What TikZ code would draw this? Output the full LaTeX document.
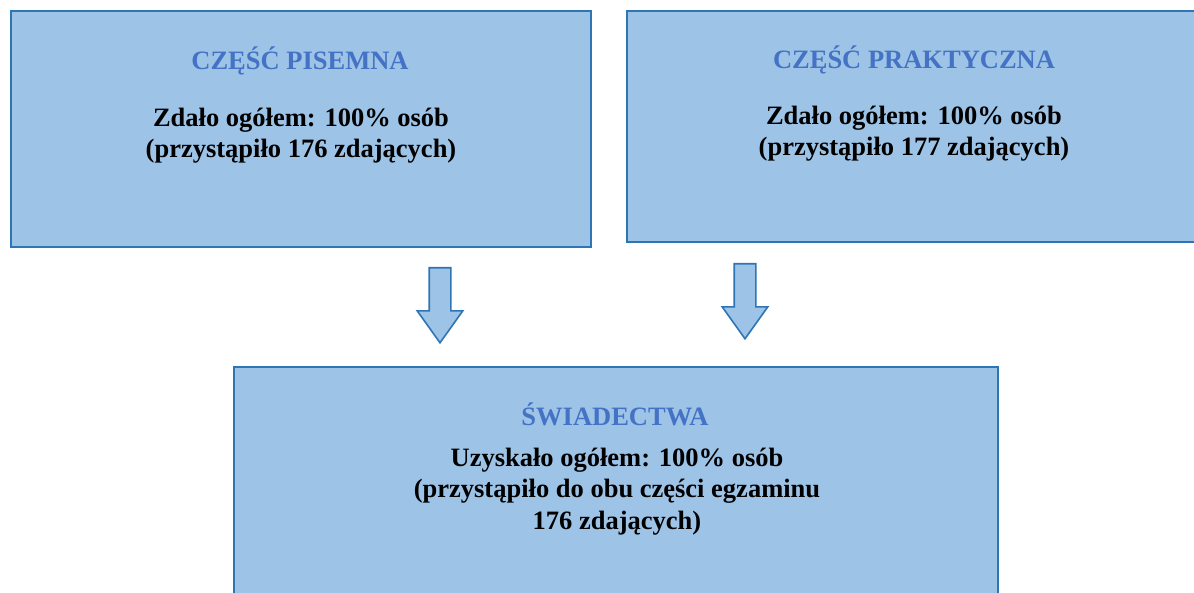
\documentclass[tikz,border=0pt]{standalone}
\usepackage{fontspec}
\setmainfont{Liberation Serif}
\usetikzlibrary{shapes.arrows}
\definecolor{boxfill}{HTML}{9DC3E6}
\definecolor{boxline}{HTML}{2E75B6}
\definecolor{titleblue}{HTML}{4472C4}

\begin{document}
\begin{tikzpicture}[
x=1pt, y=-1pt,
font=\bfseries\fontsize{26.5}{31.5}\selectfont,
box/.style={
    draw=boxline, fill=boxfill, line width=1.6pt,
    anchor=north west, inner sep=0pt},
title/.style={text=titleblue, anchor=base},
body/.style={align=center, anchor=base},
down/.style={
    single arrow, draw=boxline, fill=boxfill, line width=1.6pt,
    shape border rotate=270, minimum height=75pt, minimum width=44pt,
    single arrow head extend=12pt, single arrow tip angle=71,
    single arrow head indent=0pt, inner sep=10pt, anchor=tail},
]
\useasboundingbox (0,0) rectangle (1194,593);
\clip (0,0) rectangle (1194,593);

\node[box, minimum width=580pt, minimum height=236pt] (pisemna) at (10,10) {};
\node[box, minimum width=575pt, minimum height=231pt] (praktyczna) at (626,10) {};
\node[box, minimum width=764pt, minimum height=240pt] (swiadectwa) at (233,366) {};

% body nodes sit on the baseline of their last line
\node[title] (pisemna-t) at (300,70) {CZĘŚĆ PISEMNA};
\node[body] (pisemna-b) at (301,158) {Zdało ogółem: 100\% osób\\(przystąpiło 176 zdających)};

\node[title] (praktyczna-t) at (914,69) {CZĘŚĆ PRAKTYCZNA};
\node[body] (praktyczna-b) at (914,156) {Zdało ogółem: 100\% osób\\(przystąpiło 177 zdających)};

\node[title] (swiadectwa-t) at (615,425) {ŚWIADECTWA};
\node[body] (swiadectwa-b) at (617,529) {Uzyskało ogółem: 100\% osób\\(przystąpiło do obu części egzaminu\\176 zdających)};

% arrows down to the certificate box
\node[down] (strz1) at (440,267) {};
\node[down] (strz2) at (745,263) {};

\end{tikzpicture}
\end{document}
